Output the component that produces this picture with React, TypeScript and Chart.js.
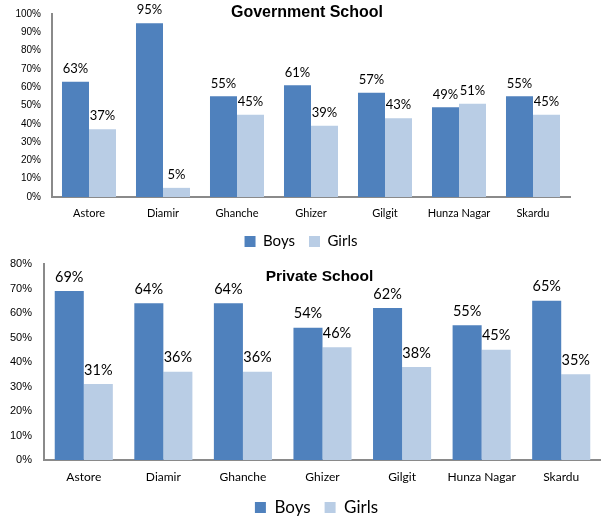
import React, { useEffect, useRef } from 'react';
import { Chart, registerables } from 'chart.js';

Chart.register(...registerables);

const districts = ['Astore', 'Diamir', 'Ghanche', 'Ghizer', 'Gilgit', 'Hunza Nagar', 'Skardu'];
const seriesNames = ['Boys', 'Girls'];
const govBoys = [63, 95, 55, 61, 57, 49, 55];
const govGirls = [37, 5, 45, 39, 43, 51, 45];
const privBoys = [69, 64, 64, 54, 62, 55, 65];
const privGirls = [31, 36, 36, 46, 38, 45, 35];
const govTitle = 'Government School';
const privTitle = 'Private School';
const govMax = 100;
const privMax = 80;

const BOYS = '#4F81BD';
const GIRLS = '#B9CDE5';
const CAL = 'Lato, "Open Sans", sans-serif';
const ARIAL = '"Liberation Sans", Arial, sans-serif';

type Props = {
  title: string;
  boys: number[];
  girls: number[];
  max: number;
  top: number;
  height: number;
  padTop: number;
  padRight: number;
  yWidth: number;
  xHeight: number;
  yFont: number;
  yPad: number;
  xFont: number;
  xPad: number;
  labelFont: number;
  labelOffset: number;
  legendFont: number;
  legendPad: number;
  legendDx: number;
  titleFont: number;
  titleY: number;
  titleDx: number;
};

function SchoolChart(p: Props) {
  const ref = useRef<HTMLCanvasElement | null>(null);
  useEffect(() => {
    if (!ref.current) return;
    const labelPlugin = {
      id: 'valueLabels',
      afterDatasetsDraw(chart: any) {
        const ctx = chart.ctx;
        ctx.save();
        ctx.font = `${p.labelFont}px ${CAL}`;
        ctx.fillStyle = '#000';
        ctx.textAlign = 'center';
        ctx.textBaseline = 'middle';
        chart.data.datasets.forEach((ds: any, di: number) => {
          const meta = chart.getDatasetMeta(di);
          meta.data.forEach((bar: any, i: number) => {
            ctx.fillText(`${ds.data[i]}%`, bar.x, bar.y - p.labelOffset);
          });
        });
        ctx.restore();
      },
    };
    const titlePlugin = {
      id: 'overlayTitle',
      afterDraw(chart: any) {
        const ctx = chart.ctx;
        const a = chart.chartArea;
        ctx.save();
        ctx.font = `bold ${p.titleFont}px ${ARIAL}`;
        ctx.fillStyle = '#000';
        ctx.textAlign = 'center';
        ctx.textBaseline = 'middle';
        ctx.fillText(p.title, (a.left + a.right) / 2 + p.titleDx, p.titleY);
        ctx.restore();
      },
    };
    const legendShift = {
      id: 'legendShift',
      afterLayout(chart: any) {
        const l = chart.legend;
        if (l) {
          l.left += p.legendDx;
          l.right += p.legendDx;
        }
      },
    };
    const chart = new Chart(ref.current, {
      type: 'bar',
      data: {
        labels: districts,
        datasets: [
          { label: seriesNames[0], data: p.boys, backgroundColor: BOYS, categoryPercentage: 0.73, barPercentage: 1 },
          { label: seriesNames[1], data: p.girls, backgroundColor: GIRLS, categoryPercentage: 0.73, barPercentage: 1 },
        ],
      },
      options: {
        animation: false,
        responsive: true,
        maintainAspectRatio: false,
        layout: { padding: { top: p.padTop, right: p.padRight, left: 0, bottom: 0 } },
        plugins: {
          title: { display: false },
          tooltip: { enabled: false },
          legend: {
            position: 'bottom',
            fullSize: false,
            labels: {
              boxWidth: 11,
              boxHeight: 11,
              padding: p.legendPad,
              color: '#000',
              font: { family: CAL, size: p.legendFont },
            },
          },
        },
        scales: {
          x: {
            grid: { display: false, drawTicks: false },
            border: { display: true, color: '#8A8A8A', width: 2 },
            ticks: { color: '#000', font: { family: CAL, size: p.xFont }, padding: p.xPad, maxRotation: 0, autoSkip: false },
            afterFit: (s: any) => { s.height = p.xHeight; },
          },
          y: {
            min: 0,
            max: p.max,
            grid: { display: false, drawTicks: true, tickLength: p.yPad },
            border: { display: true, color: '#8A8A8A', width: 2 },
            ticks: {
              stepSize: 10,
              color: '#000',
              padding: 0,
              font: { family: ARIAL, size: p.yFont, lineHeight: 1 },
              callback: (v: any) => `${v}%`,
            },
            afterFit: (s: any) => { s.width = p.yWidth; },
          },
        },
      },
      plugins: [labelPlugin, titlePlugin, legendShift],
    });
    return () => chart.destroy();
  }, []);
  return (
    <div style={{ position: 'absolute', left: 0, top: p.top, width: 601, height: p.height }}>
      <canvas ref={ref} />
    </div>
  );
}

export default function App() {
  return (
    <div style={{ position: 'fixed', left: 0, top: 0, width: 601, height: 518, overflow: 'hidden', background: '#fff' }}>
      <SchoolChart
        title={govTitle}
        boys={govBoys}
        girls={govGirls}
        max={govMax}
        top={0}
        height={259}
        padTop={14}
        padRight={31}
        yWidth={52}
        xHeight={23}
        yFont={10}
        yPad={11}
        xFont={11}
        xPad={10}
        labelFont={13}
        labelOffset={13}
        legendFont={15}
        legendPad={14}
        legendDx={-10}
        titleFont={16}
        titleY={13}
        titleDx={-4}
      />
      <SchoolChart
        title={privTitle}
        boys={privBoys}
        girls={privGirls}
        max={privMax}
        top={258}
        height={268}
        padTop={6}
        padRight={0}
        yWidth={44}
        xHeight={25}
        yFont={11}
        yPad={12}
        xFont={12}
        xPad={10}
        labelFont={14.5}
        labelOffset={14}
        legendFont={17}
        legendPad={14}
        legendDx={-6}
        titleFont={15.5}
        titleY={19}
        titleDx={-3}
      />
    </div>
  );
}
